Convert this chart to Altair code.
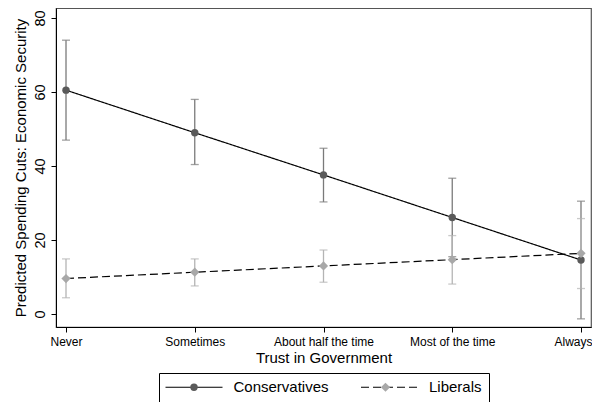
import altair as alt
import pandas as pd

categories = ["Never", "Sometimes", "About half the time", "Most of the time", "Always"]
groups = ["Conservatives", "Liberals"]

cons_est = [60.5, 49.0, 37.6, 26.1, 14.6]
cons_lo = [47.0, 40.4, 30.3, 15.5, -1.3]
cons_hi = [74.0, 58.0, 44.8, 36.7, 30.5]

lib_est = [9.6, 11.3, 13.0, 14.7, 16.4]
lib_lo = [4.4, 7.6, 8.6, 8.1, 6.9]
lib_hi = [14.9, 14.9, 17.3, 21.2, 25.8]

y_ticks = [0, 20, 40, 60, 80]

rows = []
for g, est, lo, hi in [(groups[0], cons_est, cons_lo, cons_hi), (groups[1], lib_est, lib_lo, lib_hi)]:
    for c, e, l, h in zip(categories, est, lo, hi):
        rows.append({"trust": c, "group": g, "group2": g, "est": e, "lo": l, "hi": h})
df = pd.DataFrame(rows)

FONT = "Liberation Sans"

xenc = alt.X(
    "trust:N",
    sort=categories,
    scale=alt.Scale(type="point", domain=categories, padding=0.0777),
    axis=alt.Axis(
        title="Trust in Government", labelAngle=0, labelFontSize=12, tickSize=5,
        labelPadding=4, titleFontSize=15, titleY=35, titleX=267.5,
        labelOffset={"condition": {"test": "datum.value == 'Always'", "value": -8}, "value": 0},
        titleBaseline="alphabetic", titleFontWeight="normal",
        domainColor="black", tickColor="black", labelColor="black", titleColor="black",
    ),
)

yaxis = alt.Axis(
    title="Predicted Spending Cuts: Economic Security", values=y_ticks,
    labelAngle=270, labelAlign="center", labelBaseline="bottom", labelPadding=4,
    tickSize=5, labelFontSize=14.5, titleFontSize=15, titleAngle=270,
    titleBaseline="middle", titleX=-36, titleY=159.5, titleFontWeight="normal",
    domainColor="black", tickColor="black", labelColor="black", titleColor="black", grid=False,
)
yscale = alt.Scale(domain=[-3.5, 82.7], nice=False, zero=False)

base = alt.Chart(df)

bar_color = alt.Color("group:N", scale=alt.Scale(range=["#7a7a7a", "#b4b4b4"]), legend=None)

bars = base.mark_rule(strokeWidth=1.3).encode(
    x=xenc, y=alt.Y("lo:Q", scale=yscale, axis=yaxis), y2="hi:Q", color=bar_color
)
caps_lo = base.mark_tick(orient="horizontal", size=8, thickness=1.3).encode(
    x=xenc, y=alt.Y("lo:Q", scale=yscale), color=bar_color
)
caps_hi = base.mark_tick(orient="horizontal", size=8, thickness=1.3).encode(
    x=xenc, y=alt.Y("hi:Q", scale=yscale), color=bar_color
)

LX, LY = 103, 365
legA = alt.Legend(
    orient="none", legendX=LX, legendY=LY, direction="horizontal", columns=2, title=None,
    padding=6.5, symbolType="M-4.75,0H4.75", symbolSize=144, symbolOffset=21,
    labelOffset=32, columnPadding=28.5, labelFontSize=15, labelFont=FONT, labelColor="black",
    symbolStrokeColor="black", symbolStrokeWidth=1.2, strokeColor="black", fillColor="white",
)
lines = base.mark_line(color="black", strokeWidth=1.2).encode(
    x=xenc, y=alt.Y("est:Q", scale=yscale),
    strokeDash=alt.StrokeDash("group:N", scale=alt.Scale(domain=groups, range=[[1, 0], [8, 4]]), legend=legA),
)

legB = alt.Legend(
    orient="none", legendX=LX, legendY=LY, direction="horizontal", columns=2, title=None,
    padding=6.5, symbolOffset=21, labelOffset=32, columnPadding=123.5, labelFontSize=15,
    labelFont=FONT, labelExpr="''", symbolStrokeWidth=0, symbolOpacity=1,
)
points = base.mark_point(filled=True, opacity=1, strokeWidth=0).encode(
    x=xenc, y=alt.Y("est:Q", scale=yscale),
    fill=alt.Fill("group2:N", scale=alt.Scale(range=["#5a5a5a", "#a8a8a8"]), legend=legB),
    shape=alt.Shape("group2:N", scale=alt.Scale(range=["circle", "diamond"]), legend=legB),
    size=alt.Size("group2:N", scale=alt.Scale(range=[55, 85]), legend=legB),
)

chart = (
    alt.layer(bars, caps_lo, caps_hi, lines, points)
    .properties(
        width=535, height=319,
        padding={"left": 48, "top": 0, "right": 1, "bottom": 75},
        autosize=alt.AutoSizeParams(type="none"),
    )
    .configure(font=FONT)
    .configure_view(stroke="#555555", strokeWidth=1.2)
)

chart.save("out.html", embed_options={"renderer": "svg", "actions": False})
